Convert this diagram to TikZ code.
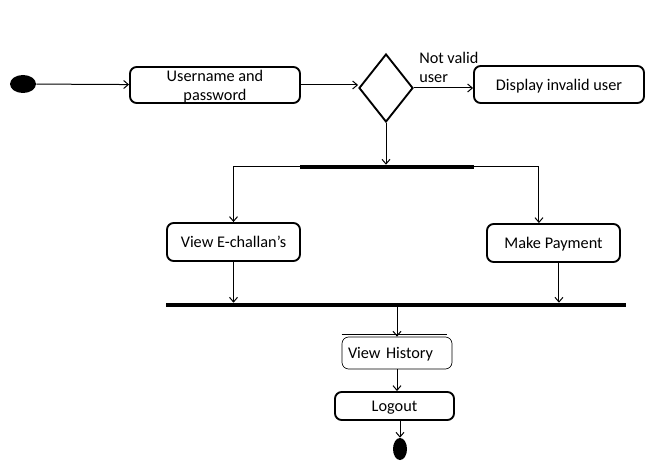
\documentclass[tikz,border=0pt]{standalone}
\usepackage{fontspec}
\setmainfont{Carlito}
\usetikzlibrary{shapes.geometric,arrows.meta}
\begin{document}
\begin{tikzpicture}[x=0.75pt,y=-0.75pt,font=\fontsize{12.2}{14.25}\selectfont,
	activity/.style={draw,line width=1.4pt,rounded corners=5pt,align=center,inner sep=0pt,text depth=0pt},
	bar/.style={fill=black,inner sep=0pt,minimum height=3pt},
	flow/.style={line width=0.75pt,-{Straight Barb[length=3.5pt,width=6pt]}}]
	%
	\useasboundingbox (0,0) rectangle (656,470);
	%
	\node [ellipse,fill=black,inner sep=0pt,minimum width=19.5pt,minimum height=13.5pt] (start) at (23,84) {};
	\node [activity,minimum width=127.5pt,minimum height=27pt] (login) at (215,85) {Username and\\password};
	\node [diamond,draw,line width=1.4pt,inner sep=0pt,minimum width=40.5pt,minimum height=51pt] (check) at (386,88) {};
	\node [activity,minimum width=127.5pt,minimum height=27.75pt] (invalid) at (559,84.5) {Display invalid user};
	\node [anchor=south west,align=left,inner sep=0pt] (notvalid) at (419,83) {Not valid\\user};
	%
	\node [bar,minimum width=130.5pt] (fork) at (387,167) {};
	\node [activity,minimum width=99.75pt,minimum height=28.5pt] (challan) at (233.5,242) {View E-challan’s};
	\node [activity,minimum width=99.75pt,minimum height=28.5pt] (payment) at (553.5,243) {Make Payment};
	\node [bar,minimum width=345pt] (join) at (396,305) {};
	%
	\node [draw,line width=0.5pt,rounded corners=5pt,align=left,inner xsep=4.5pt,inner ysep=0pt,
		text width=73.5pt,text depth=0pt,minimum height=24pt] (history) at (397,353) {View History};
	\node [activity,minimum width=89.25pt,minimum height=21pt] (logout) at (394.5,406) {Logout};
	\node [ellipse,fill=black,inner sep=0pt,minimum width=10.5pt,minimum height=16.5pt] (stop) at (400,449) {};
	%
	\draw [flow] (start) -- (login);
	\draw [flow] (login.east) -- (login.east -| check.west);
	\draw [flow] (check.east) -- (invalid.west |- check.east);
	\draw [flow] (check.south) -- (check.south |- fork.north);
	%
	\coordinate (payin) at ([xshift=-10.9pt]payment.north);
	\coordinate (payout) at ([xshift=4.1pt]payment.south);
	\draw [flow] (fork.west) -| (challan.north);
	\draw [flow] (fork.east) -| (payin);
	\draw [flow] (challan.south) -- (challan.south |- join.north);
	\draw [flow] (payout) -- (payout |- join.north);
	%
	\draw [flow] (history.north |- join.south) -- (history.north);
	\draw [line width=0.5pt] ([yshift=1.5pt]history.north west) -- ([xshift=-3.75pt,yshift=1.5pt]history.north east);
	\draw [flow] (history.south) -- (history.south |- logout.north);
	\draw [flow] (stop.north |- logout.south) -- (stop.north);
\end{tikzpicture}
\end{document}
